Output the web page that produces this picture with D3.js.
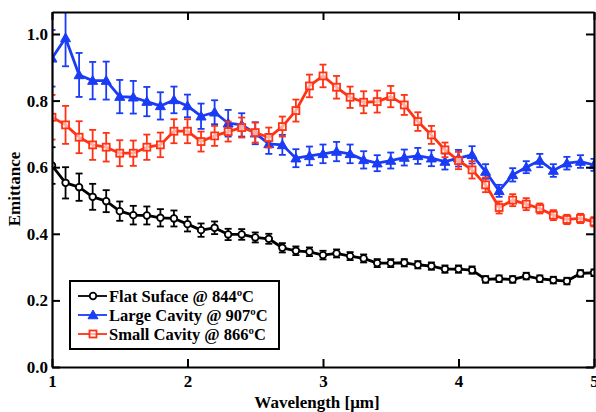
<!DOCTYPE html>
<html>
<head>
<meta charset="utf-8">
<script src="https://cdn.jsdelivr.net/npm/d3@7"></script>
<style>
  body { margin: 0; background: #fff; }
  svg text { font-family: "Liberation Serif", "Times New Roman", serif; font-weight: bold; }
</style>
</head>
<body>
<div id="chart"></div>
<script>
// wavelength samples (um)
var wavelengths = [1.0, 1.1, 1.2, 1.3, 1.4, 1.5, 1.6, 1.7, 1.8, 1.9,
                   2.0, 2.1, 2.2, 2.3, 2.4, 2.5, 2.6, 2.7, 2.8, 2.9,
                   3.0, 3.1, 3.2, 3.3, 3.4, 3.5, 3.6, 3.7, 3.8, 3.9,
                   4.0, 4.1, 4.2, 4.3, 4.4, 4.5, 4.6, 4.7, 4.8, 4.9, 5.0];

var flatValues = [0.605, 0.553, 0.540, 0.511, 0.498, 0.468, 0.456, 0.455, 0.448, 0.446,
                  0.429, 0.411, 0.418, 0.398, 0.398, 0.389, 0.385, 0.358, 0.349, 0.346,
                  0.336, 0.341, 0.333, 0.326, 0.312, 0.312, 0.313, 0.307, 0.303, 0.294,
                  0.294, 0.291, 0.263, 0.265, 0.263, 0.273, 0.265, 0.261, 0.258, 0.281, 0.283];
var flatErr = [0.055, 0.047, 0.041, 0.039, 0.033, 0.029, 0.028, 0.027, 0.026, 0.024,
               0.022, 0.020, 0.019, 0.017, 0.016, 0.015, 0.015, 0.014, 0.013, 0.013,
               0.013, 0.012, 0.012, 0.012, 0.012, 0.012, 0.011, 0.011, 0.011, 0.011,
               0.011, 0.011, 0.010, 0.010, 0.010, 0.010, 0.010, 0.010, 0.010, 0.010, 0.010];

var largeValues = [0.927, 0.988, 0.877, 0.860, 0.860, 0.812, 0.810, 0.797, 0.784, 0.802,
                   0.784, 0.753, 0.765, 0.732, 0.727, 0.702, 0.670, 0.667, 0.627, 0.634,
                   0.640, 0.647, 0.640, 0.622, 0.612, 0.620, 0.629, 0.634, 0.627, 0.617,
                   0.627, 0.637, 0.587, 0.529, 0.577, 0.600, 0.620, 0.590, 0.612, 0.617, 0.607];
var largeErr = [0.085, 0.085, 0.066, 0.056, 0.057, 0.050, 0.049, 0.044, 0.041, 0.040,
                0.034, 0.038, 0.036, 0.040, 0.035, 0.033, 0.030, 0.030, 0.027, 0.028,
                0.028, 0.029, 0.028, 0.026, 0.024, 0.024, 0.024, 0.024, 0.024, 0.024,
                0.025, 0.026, 0.022, 0.018, 0.020, 0.018, 0.020, 0.019, 0.019, 0.019, 0.018];

var smallValues = [0.750, 0.727, 0.690, 0.667, 0.660, 0.642, 0.642, 0.660, 0.667, 0.708,
                   0.708, 0.677, 0.694, 0.707, 0.719, 0.704, 0.689, 0.722, 0.770, 0.844,
                   0.874, 0.840, 0.810, 0.795, 0.797, 0.812, 0.787, 0.737, 0.697, 0.652,
                   0.620, 0.592, 0.547, 0.479, 0.501, 0.489, 0.476, 0.456, 0.443, 0.446, 0.436];
var smallErr = [0.067, 0.057, 0.048, 0.045, 0.043, 0.039, 0.038, 0.038, 0.037, 0.036,
                0.036, 0.030, 0.030, 0.030, 0.030, 0.030, 0.030, 0.030, 0.033, 0.034,
                0.034, 0.034, 0.032, 0.033, 0.033, 0.032, 0.030, 0.028, 0.027, 0.022,
                0.026, 0.026, 0.022, 0.018, 0.018, 0.018, 0.015, 0.015, 0.014, 0.014, 0.014];

var seriesNames = ["Flat Suface @ 844\u00baC", "Large Cavity @ 907\u00baC", "Small Cavity @ 866\u00baC"];
var seriesColors = ["#000000", "#1a3cf5", "#ff3314"];
var seriesMarkers = ["circle", "triangle", "square"];

var xTicks = [1, 2, 3, 4, 5];
var yTicks = [0.0, 0.2, 0.4, 0.6, 0.8, 1.0];

// set the dimensions and margins of the graph
var width = 596;
var height = 412;
var margin = { top: 12, right: 1, bottom: 45, left: 52 };

var svg = d3.select("#chart")
    .append("svg")
    .attr("width", width)
    .attr("height", height);

var x = d3.scaleLinear()
    .domain([1, 5])
    .range([margin.left, width - margin.right - 1]);

var y = d3.scaleLinear()
    .domain([0, 1.066])
    .range([height - margin.bottom, margin.top]);

svg.append("clipPath")
    .attr("id", "plotclip")
    .append("rect")
    .attr("x", x(1))
    .attr("y", y(1.066))
    .attr("width", x(5) - x(1))
    .attr("height", y(0) - y(1.066));

// marker drawing
function drawMarker(g, type, color, cx, cy) {
    if (type == "circle") {
        g.append("circle")
            .attr("cx", cx).attr("cy", cy).attr("r", 3.3)
            .attr("fill", "#fff").attr("stroke", color).attr("stroke-width", 1.8);
    } else if (type == "triangle") {
        var s = 5;
        g.append("path")
            .attr("d", "M" + cx + "," + (cy - s) + "L" + (cx + s) + "," + (cy + s * 0.75) + "L" + (cx - s) + "," + (cy + s * 0.75) + "Z")
            .attr("fill", color).attr("stroke", color).attr("stroke-width", 1);
    } else {
        g.append("rect")
            .attr("x", cx - 3.5).attr("y", cy - 3.5).attr("width", 7).attr("height", 7)
            .attr("fill", "#fff").attr("fill-opacity", 0.6).attr("stroke", color).attr("stroke-width", 1.8);
    }
}

var allSeries = [
    { values: flatValues, err: flatErr },
    { values: largeValues, err: largeErr },
    { values: smallValues, err: smallErr }
];

var plot = svg.append("g").attr("clip-path", "url(#plotclip)");

var line = d3.line()
    .x(function(d) { return x(d[0]); })
    .y(function(d) { return y(d[1]); });

allSeries.forEach(function(s, k) {
    var color = seriesColors[k];
    var g = plot.append("g");
    var pts = wavelengths.map(function(w, i) { return [w, s.values[i], s.err[i]]; });

    // error bars
    pts.forEach(function(p) {
        var xx = x(p[0]);
        g.append("line")
            .attr("x1", xx).attr("x2", xx)
            .attr("y1", y(p[1] - p[2])).attr("y2", y(p[1] + p[2]))
            .attr("stroke", color).attr("stroke-width", 1.8);
        [p[1] - p[2], p[1] + p[2]].forEach(function(v) {
            g.append("line")
                .attr("x1", xx - 3.5).attr("x2", xx + 3.5)
                .attr("y1", y(v)).attr("y2", y(v))
                .attr("stroke", color).attr("stroke-width", 1.8);
        });
    });

    g.append("path")
        .datum(pts)
        .attr("d", line)
        .attr("fill", "none")
        .attr("stroke", color)
        .attr("stroke-width", 2.8)
        .attr("stroke-linejoin", "round");

    pts.forEach(function(p) {
        drawMarker(g, seriesMarkers[k], color, x(p[0]), y(p[1]));
    });
});

// axes (ticks pointing inward)
var tickLen = 8;
var xAxisBottom = svg.append("g")
    .attr("transform", "translate(0," + y(0) + ")")
    .call(d3.axisBottom(x).tickValues(xTicks).tickFormat(d3.format("d")).tickSizeInner(-tickLen).tickSizeOuter(0).tickPadding(8));
var xAxisTop = svg.append("g")
    .attr("transform", "translate(0," + y(1.066) + ")")
    .call(d3.axisTop(x).tickValues(xTicks).tickFormat("").tickSizeInner(-tickLen).tickSizeOuter(0));
var yAxisLeft = svg.append("g")
    .attr("transform", "translate(" + x(1) + ",0)")
    .call(d3.axisLeft(y).tickValues(yTicks).tickFormat(d3.format(".1f")).tickSizeInner(-tickLen).tickSizeOuter(0).tickPadding(4));
var yAxisRight = svg.append("g")
    .attr("transform", "translate(" + x(5) + ",0)")
    .call(d3.axisRight(y).tickValues(yTicks).tickFormat("").tickSizeInner(-tickLen).tickSizeOuter(0));

[xAxisBottom, xAxisTop, yAxisLeft, yAxisRight].forEach(function(a) {
    a.select(".domain").attr("stroke", "#000").attr("stroke-width", 2.2);
    a.selectAll(".tick line").attr("stroke", "#000").attr("stroke-width", 2);
    a.selectAll(".tick text").attr("fill", "#000").style("font-size", "17px");
});

// axis titles
svg.append("text")
    .attr("x", 317)
    .attr("y", 408)
    .attr("text-anchor", "middle")
    .style("font-size", "17px")
    .text("Wavelength [\u03bcm]");

svg.append("text")
    .attr("transform", "translate(20," + 189 + ") rotate(-90)")
    .attr("text-anchor", "middle")
    .style("font-size", "17px")
    .text("Emittance");

// legend
var legend = svg.append("g");
legend.append("rect")
    .attr("x", 70).attr("y", 281)
    .attr("width", 209).attr("height", 68)
    .attr("fill", "#fff").attr("stroke", "#000").attr("stroke-width", 2);

seriesNames.forEach(function(name, k) {
    var ly = 296 + k * 19;
    legend.append("line")
        .attr("x1", 78).attr("x2", 107)
        .attr("y1", ly).attr("y2", ly)
        .attr("stroke", seriesColors[k]).attr("stroke-width", 1.8);
    drawMarker(legend, seriesMarkers[k], seriesColors[k], 93, ly);
    legend.append("text")
        .attr("x", 109).attr("y", ly + 5.5)
        .style("font-size", "16.5px")
        .text(name);
});
</script>
</body>
</html>
